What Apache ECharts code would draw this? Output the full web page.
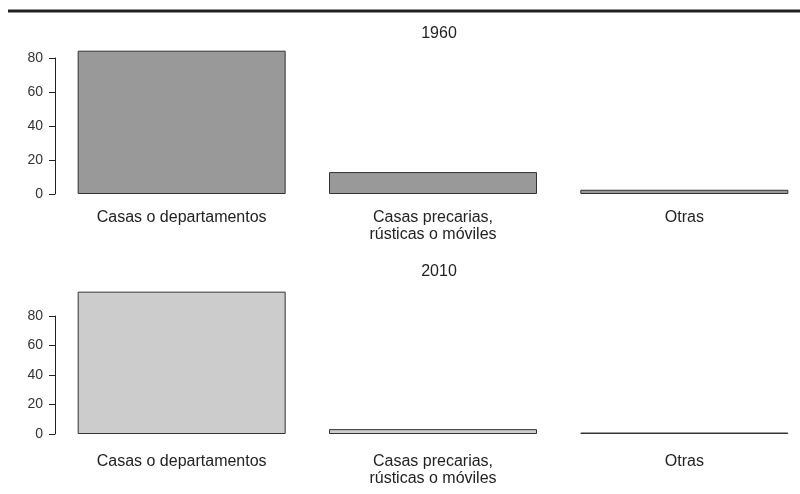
<!DOCTYPE html>
<html>
<head>
<meta charset="utf-8">
<script src="https://cdn.jsdelivr.net/npm/echarts@6/dist/echarts.min.js"></script>
<style>
  html, body { margin: 0; padding: 0; background: #fff; overflow: hidden; }
  #chart { width: 820px; height: 494px; }
</style>
</head>
<body>
<div id="chart"></div>
<script>
const categories = ['Casas o departamentos', 'Casas precarias,\nrústicas o móviles', 'Otras']
const years = ['1960', '2010']
const values1960 = [84.3, 12.9, 2.5]
const values2010 = [96.5, 3.3, 1.0]
const yTicks = [0, 20, 40, 60, 80]

const font = 'Liberation Sans, Arial, sans-serif'

// the plot area runs a little past the right edge of the 800px window
const chart = echarts.init(document.getElementById('chart'))

function xAxisFor(idx, margin) {
  return {
    type: 'category',
    gridIndex: idx,
    data: categories,
    axisLine: { show: false },
    axisTick: { show: false },
    axisLabel: {
      margin: margin,
      fontFamily: font,
      fontSize: 16,
      color: '#222',
      lineHeight: 17
    }
  }
}

function yAxisFor(idx) {
  return {
    type: 'value',
    gridIndex: idx,
    min: yTicks[0],
    max: yTicks[yTicks.length - 1],
    interval: 20,
    offset: 1,
    splitLine: { show: false },
    axisLine: { show: true, lineStyle: { color: '#222', width: 1 } },
    axisTick: { show: true, length: 6, lineStyle: { color: '#222' } },
    axisLabel: {
      margin: 12,
      fontFamily: font,
      fontSize: 14,
      color: '#333'
    }
  }
}

function barSeries(idx, data, color) {
  return {
    type: 'bar',
    xAxisIndex: idx,
    yAxisIndex: idx,
    data: data,
    barWidth: 208,
    clip: false,
    itemStyle: { color: color, borderColor: '#333', borderWidth: 1 },
    silent: true
  }
}

const titleStyle = { fontFamily: font, fontSize: 16, fontWeight: 'normal', color: '#222' }

chart.setOption({
  animation: false,
  title: [{
    text: years[0],
    left: 434,
    top: 21,
    textAlign: 'center',
    textStyle: titleStyle
  }, {
    text: years[1],
    left: 434,
    top: 259,
    textAlign: 'center',
    textStyle: titleStyle
  }],
  graphic: [{
    type: 'line',
    shape: { x1: 8, y1: 11, x2: 820, y2: 11 },
    style: { stroke: '#222', lineWidth: 3 }
  }],
  grid: [
    { left: 56, width: 754, top: 58, height: 136 },
    { left: 56, width: 754, top: 316, height: 118 }
  ],
  xAxis: [xAxisFor(0, 15), xAxisFor(1, 19)],
  yAxis: [yAxisFor(0), yAxisFor(1)],
  series: [
    barSeries(0, values1960, '#999999'),
    barSeries(1, values2010, '#cccccc')
  ]
})
</script>
</body>
</html>
